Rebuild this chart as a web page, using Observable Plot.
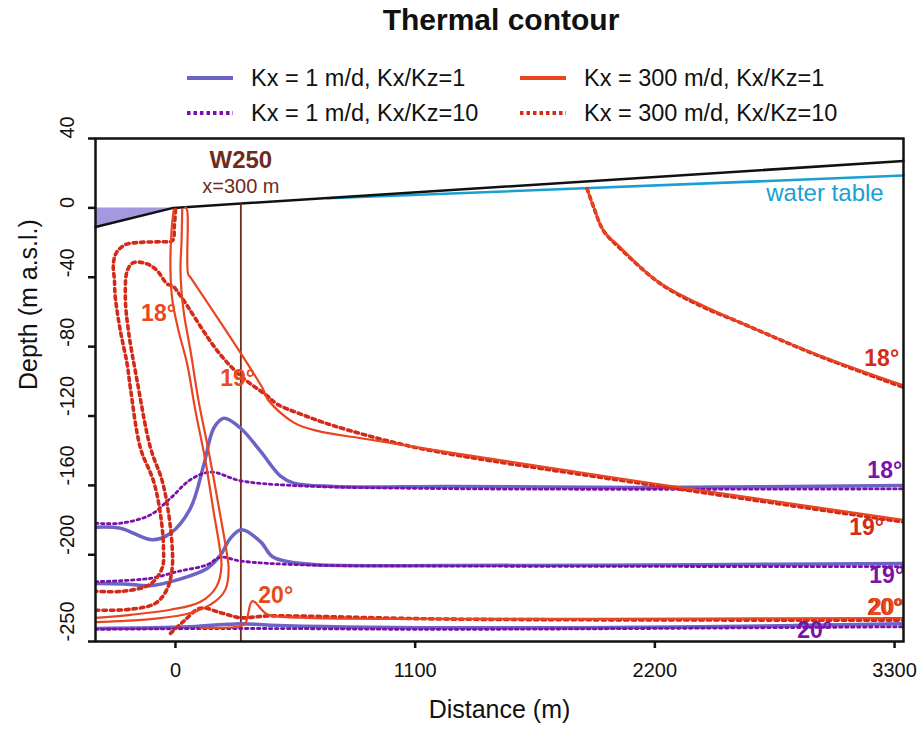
<!DOCTYPE html>
<html><head><meta charset="utf-8">
<script src="https://cdn.jsdelivr.net/npm/d3@7"></script>
<script src="https://cdn.jsdelivr.net/npm/@observablehq/plot@0.6"></script>
<style>
body{margin:0;background:#fff;font-family:"Liberation Sans",Arial,Helvetica,sans-serif;color:#111;}
#wrap{position:relative;width:922px;height:735px;overflow:hidden;}
#title{position:absolute;left:501px;top:3px;transform:translateX(-50%);font-size:30px;font-weight:bold;white-space:nowrap;}
.leg{position:absolute;display:flex;align-items:center;font-size:23.5px;white-space:nowrap;}
.leg svg{margin-right:18px;}
#plot{position:absolute;left:0;top:100px;}
</style></head>
<body><div id="wrap">
<div id="title">Thermal contour</div>
<div id="legend"></div>
<div id="plot"></div>
</div>
<script>
// ---------- data (x: distance m, y: elevation m a.s.l.) ----------
const xTicks = [0, 1100, 2200, 3300];
const yTicks = [40, 0, -40, -80, -120, -160, -200, -250];

const groundX = [-367, -10, 3341];
const groundY = [-11, 0, 27];
const lakeX = [-367, -10];
const lakeY = [-11, 0];
const waterTableX = [700, 3341];
const waterTableY = [5.5, 18.6];
const wellX = 300, wellTopY = 2.4;

// Kx = 1 m/d, Kx/Kz = 1 (solid)
const b18X = [-367,-252,-107,-23,69,130,176,222,298,390,482,543,725,1262,2180,3341];
const b18Y = [-184.1,-184.7,-191.4,-187.6,-173.1,-148.1,-126.9,-121.3,-126.9,-140.3,-154.7,-158.7,-160.6,-160.6,-161.2,-160.0];
const b19X = [-367,-237,-115,8,145,207,252,303,390,444,513,650,1262,2409,3341];
const b19Y = [-216.5,-216.8,-217.8,-214.5,-207.9,-200.1,-190.5,-185.6,-192.4,-201.0,-203.9,-205.8,-206.2,-205.7,-205.1];
const b20X = [-367,69,298,436,1262,2409,3341];
const b20Y = [-242.5,-241.5,-239.7,-240.6,-242.1,-241.5,-239.7];

// Kx = 1 m/d, Kx/Kz = 10 (dotted)
const p18X = [-367,-252,-115,-23,69,161,298,528,1262,3341];
const p18Y = [-181.8,-181.8,-177.0,-167.4,-156.7,-152.3,-157.3,-160.0,-161.9,-162.0];
const p19X = [-367,-115,8,145,207,298,574,1262,3341];
const p19Y = [-215.5,-213.6,-209.7,-205.8,-201.4,-203.6,-205.8,-206.5,-206.8];
const p20X = [-367,300,1262,3341];
const p20Y = [-243,-242.5,-243,-241.5];

// Kx = 300 m/d, Kx/Kz = 1 (solid)
const r18X = [1889,1920,1965,2027,2211,2409,2578,2944,3341];
const r18Y = [10.8,0.2,-13.3,-21.0,-42.2,-55.6,-65.3,-84.5,-102.3];
const r19X = [46,54,58,69,398,428,543,651,881,1262,2180,3341];
const r19Y = [0.3,-1.6,-38.1,-40.1,-103.6,-111.2,-123.8,-128.6,-133.4,-141.1,-158.6,-179.9];
const rT1X = [-8,-18,-23,-14,14,54,92,138,175,202,211,188,115,-23,-207,-367];
const rT1Y = [-1,-13.1,-36.2,-53.5,-70.8,-90.2,-117.3,-146.2,-175.1,-195.3,-206.8,-218.4,-227.1,-231.7,-234.6,-236.4];
const rT2X = [31,28,23,37,69,106,152,198,234,244,230,184,69,-115,-367];
const rT2Y = [-1,-18.9,-36.2,-59.3,-82.4,-111.3,-140.1,-171.9,-197.9,-208.3,-219.8,-226.7,-233.6,-237.1,-238.8];
const r20X = [115,299,322,353,421,575,1264,2413,3341];
const r20Y = [-242.2,-241.1,-239.2,-226.7,-234.3,-236.3,-236.9,-236.8,-236.5];

// Kx = 300 m/d, Kx/Kz = 10 (dotted)
const d18aX = [1889,1918,1964,2042,2226,2409,2593,2950,3341];
const d18aY = [11,0.8,-13.1,-23.5,-43.7,-56.4,-66.2,-85.2,-103.4];
const d18bX = [0,-5,-14,-69,-161,-230,-271,-285,-280,-276,-253,-222,-207,-161,-101,-69,-55,-61,-115,-239,-367];
const d18bY = [-1,-10.2,-18.9,-19.5,-19.9,-21.2,-25.8,-32.2,-42,-51.8,-70.8,-89.9,-103.7,-138.4,-157.4,-176.5,-196.1,-207.6,-216.9,-221,-221];
const d19X = [-367,-207,-92,-38,-15,-15,-31,-61,-115,-176,-216,-230,-221,-193,-130,-84,-38,-14,23,192,299,421,467,575,728,1034,1264,2183,3341];
const d19Y = [-232,-231.4,-228,-219.7,-207.5,-195.9,-176.6,-157.4,-138.2,-99.7,-70.8,-51.8,-36.2,-31.6,-32.3,-36.2,-43.9,-44.9,-50.7,-82.4,-96.9,-108.4,-113.2,-118.9,-125.7,-136.2,-142.0,-159.7,-181.1];
const d20X = [-23,37,115,207,299,421,1264,3341];
const d20Y = [-245.3,-238.4,-230.8,-233.4,-236.3,-235.3,-237.1,-237.7];

// isotherm labels
const redLabels = [
  {x: -78, y: -61, t: "18°", c: "#e84a1c"},
  {x: 285, y: -98.6, t: "19°", c: "#e84a1c"},
  {x: 460, y: -223.8, t: "20°", c: "#e84a1c"},
  {x: 3241, y: -87, t: "18°", c: "#d42b16"},
  {x: 3172, y: -184.6, t: "19°", c: "#d42b16"},
  {x: 3255, y: -230.7, t: "20°", c: "#d42b16"},
  {x: 3262, y: -230.2, t: "20°", c: "#e84a1c"}
];
const purpleLabels = [
  {x: 3255, y: -151.6, t: "18°"},
  {x: 3264, y: -212.2, t: "19°"},
  {x: 2933, y: -244.0, t: "20°"}
];

// ---------- styles ----------
const C_BLUE = "#6c64c4", C_PURP = "#7a12aa", C_RED = "#e84520", C_REDD = "#d42a18";
const FONT = "Liberation Sans, Arial, Helvetica, sans-serif";

// legend
const legendItems = [
  {label: "Kx = 1 m/d, Kx/Kz=1", color: C_BLUE, dash: null, left: 187, top: 78},
  {label: "Kx = 300 m/d, Kx/Kz=1", color: C_RED, dash: null, left: 520, top: 78},
  {label: "Kx = 1 m/d, Kx/Kz=10", color: C_PURP, dash: "3.5 3", left: 187, top: 113},
  {label: "Kx = 300 m/d, Kx/Kz=10", color: C_REDD, dash: "3.5 3", left: 520, top: 113}
];
const legend = document.getElementById("legend");
for (const it of legendItems) {
  const d = document.createElement("div");
  d.className = "leg";
  d.style.left = it.left + "px";
  d.style.top = (it.top - 14) + "px";
  d.style.height = "28px";
  d.innerHTML = `<svg width="46" height="10"><line x1="0" x2="46" y1="5" y2="5" stroke="${it.color}" stroke-width="4" ${it.dash ? `stroke-dasharray="${it.dash}"` : ""}/></svg><span>${it.label}</span>`;
  legend.appendChild(d);
}

const pts = (xs, ys) => xs.map((x, i) => ({x, y: ys[i]}));
const curve = "catmull-rom";
const solidLine = (xs, ys, color, w) => Plot.line(pts(xs, ys), {x: "x", y: "y", stroke: color, strokeWidth: w, curve, clip: true});
const dotLine = (xs, ys, color, w, dash) => Plot.line(pts(xs, ys), {x: "x", y: "y", stroke: color, strokeWidth: w, strokeDasharray: dash, curve, clip: true});

const chart = Plot.plot({
  width: 922,
  height: 635,
  marginTop: 38,
  marginBottom: 94,
  marginLeft: 95,
  marginRight: 19,
  style: {fontFamily: FONT, fontSize: "20px", color: "#111", background: "transparent", overflow: "visible"},
  x: {domain: [-367, 3341]},
  y: {domain: [-250, 40]},
  marks: [
    Plot.areaY(pts(lakeX, lakeY), {x: "x", y1: "y", y2: 0, fill: "#a698de"}),
    Plot.line(pts(waterTableX, waterTableY), {x: "x", y: "y", stroke: "#1a9fd4", strokeWidth: 2.5}),
    Plot.line(pts(groundX, groundY), {x: "x", y: "y", stroke: "#111", strokeWidth: 2.5}),
    Plot.ruleX([wellX], {y1: wellTopY, y2: -250, stroke: "#6e2c1c", strokeWidth: 1.8}),
    // Kx = 1 solid
    solidLine(b18X, b18Y, C_BLUE, 3.5),
    solidLine(b19X, b19Y, C_BLUE, 3.5),
    solidLine(b20X, b20Y, C_BLUE, 3.5),
    // Kx = 1 dotted
    dotLine(p18X, p18Y, C_PURP, 2.8, "2.5 3.5"),
    dotLine(p19X, p19Y, C_PURP, 2.8, "2.5 3.5"),
    dotLine(p20X, p20Y, C_PURP, 2.8, "2.5 3.5"),
    // Kx = 300 dotted
    dotLine(d18aX, d18aY, C_REDD, 3.6, "3.5 4"),
    dotLine(d18bX, d18bY, C_REDD, 3.6, "3.5 4"),
    dotLine(d19X, d19Y, C_REDD, 3.6, "3.5 4"),
    dotLine(d20X, d20Y, C_REDD, 3.6, "3.5 4"),
    // Kx = 300 solid
    solidLine(r18X, r18Y, C_RED, 2.2),
    solidLine(r19X, r19Y, C_RED, 2.2),
    solidLine(rT1X, rT1Y, C_RED, 2.2),
    solidLine(rT2X, rT2Y, C_RED, 2.2),
    solidLine(r20X, r20Y, C_RED, 2.2),
    // labels
    Plot.text(redLabels, {x: "x", y: "y", text: "t", fill: "c", fontWeight: "bold", fontSize: 23}),
    Plot.text(purpleLabels, {x: "x", y: "y", text: "t", fill: C_PURP, fontWeight: "bold", fontSize: 23}),
    Plot.text(["W250"], {x: wellX, y: 27.2, text: d => d, fill: "#6e2c1c", fontWeight: "bold", fontSize: 24}),
    Plot.text(["x=300 m"], {x: wellX, y: 12.2, text: d => d, fill: "#6e2c1c", fontSize: 20}),
    Plot.text(["water table"], {x: 3250, y: 8.6, text: d => d, fill: "#1a9fd4", fontSize: 24, textAnchor: "end"}),
    Plot.frame({stroke: "#111", strokeWidth: 2.5}),
    Plot.axisX({ticks: xTicks, tickSize: 7, tickPadding: 14, strokeWidth: 2.5, fontSize: 20, label: null, tickFormat: d => String(d)}),
    Plot.axisY({ticks: yTicks, tickSize: 7, strokeWidth: 2.5, tickFormat: () => "", label: null}),
    Plot.text(yTicks, {y: d => d, frameAnchor: "left", dx: -28, rotate: -90, text: d => String(d), fontSize: 20, fill: "#111"}),
    Plot.text(["Depth (m a.s.l.)"], {frameAnchor: "left", dx: -67, rotate: -90, text: d => d, fontSize: 25, fill: "#111"}),
    Plot.text(["Distance (m)"], {frameAnchor: "bottom", dy: 76, text: d => d, fontSize: 25, fill: "#111"})
  ]
});
document.getElementById("plot").appendChild(chart);
</script>
</body></html>
